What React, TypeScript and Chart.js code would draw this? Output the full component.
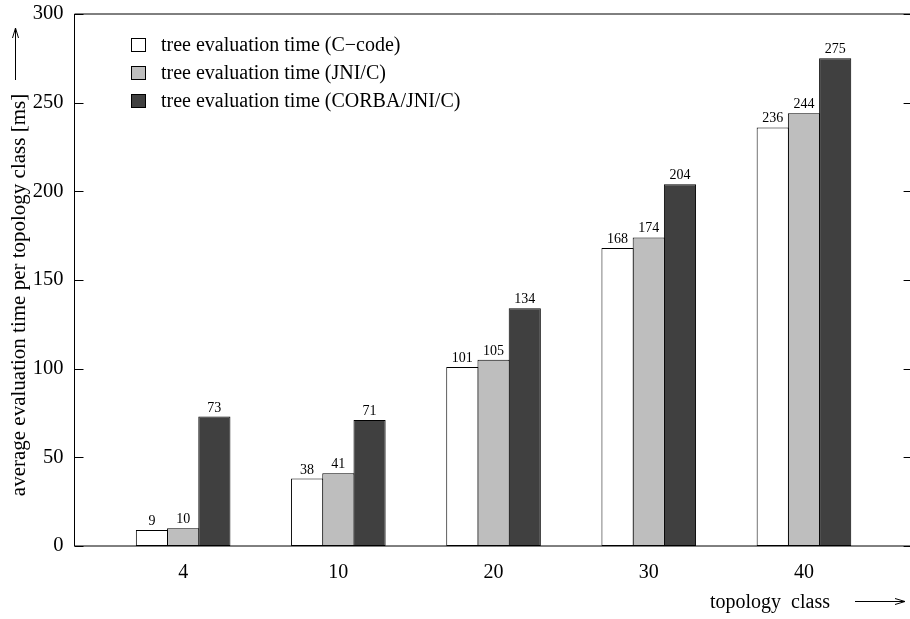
import { useEffect, useRef } from 'react';
import { Chart, registerables } from 'chart.js';

Chart.register(...registerables);

const FONT = "'Liberation Serif', 'Times New Roman', 'DejaVu Serif', serif";

// ---- data ----
const categories = ['4', '10', '20', '30', '40'];
const seriesLabels = [
  'tree evaluation time (C\u2212code)',
  'tree evaluation time (JNI/C)',
  'tree evaluation time (CORBA/JNI/C)',
];
const cCodeTimes = [9, 38, 101, 168, 236];
const jniTimes = [10, 41, 105, 174, 244];
const corbaTimes = [73, 71, 134, 204, 275];
const seriesColors = ['#ffffff', '#bebebe', '#404040'];
const yAxisTitle = 'average evaluation time per topology class [ms]';
const xAxisTitle = 'topology  class';

const seriesValues = [cCodeTimes, jniTimes, corbaTimes];

const decorPlugin = {
  id: 'decor',
  afterDatasetsDraw(chart: any) {
    const ctx = chart.ctx as CanvasRenderingContext2D;
    ctx.save();
    // value labels
    ctx.font = `14px ${FONT}`;
    ctx.fillStyle = '#000';
    ctx.textAlign = 'center';
    ctx.textBaseline = 'alphabetic';
    chart.data.datasets.forEach((ds: any, di: number) => {
      const meta = chart.getDatasetMeta(di);
      meta.data.forEach((el: any, i: number) => {
        const v = ds.data[i].y;
        ctx.fillText(String(v), el.x, el.y - 5);
      });
    });
    ctx.restore();
  },
  afterDraw(chart: any) {
    const ctx = chart.ctx as CanvasRenderingContext2D;
    const { left, right, top, bottom } = chart.chartArea;
    const ys = chart.scales.y;
    ctx.save();
    // frame
    ctx.strokeStyle = '#000';
    ctx.lineWidth = 1;
    ctx.beginPath();
    ctx.moveTo(left, bottom);
    ctx.lineTo(right + 5, bottom);
    ctx.moveTo(left, top);
    ctx.lineTo(right + 5, top);
    ctx.moveTo(left, top);
    ctx.lineTo(left, bottom);
    ctx.moveTo(right, top);
    ctx.lineTo(right, bottom);
    // inward y ticks
    ys.ticks.forEach((t: any) => {
      const py = Math.round(ys.getPixelForValue(t.value)) + 0.5;
      ctx.moveTo(left, py);
      ctx.lineTo(left + 9, py);
      ctx.moveTo(right - 9, py);
      ctx.lineTo(right, py);
    });
    ctx.stroke();

    // legend
    ctx.font = `20px ${FONT}`;
    ctx.textAlign = 'left';
    ctx.textBaseline = 'middle';
    chart.data.datasets.forEach((ds: any, i: number) => {
      const cy = 45 + i * 28;
      ctx.fillStyle = ds.backgroundColor;
      ctx.fillRect(131.5, cy - 6.5, 14, 13);
      ctx.strokeStyle = '#000';
      ctx.strokeRect(131.5, cy - 6.5, 14, 13);
      ctx.fillStyle = '#000';
      ctx.fillText(ds.label, 161, cy + 1);
    });

    // y-axis title
    ctx.save();
    ctx.font = `21px ${FONT}`;
    ctx.translate(19, 295);
    ctx.rotate(-Math.PI / 2);
    ctx.textAlign = 'center';
    ctx.textBaseline = 'middle';
    ctx.fillText(yAxisTitle, 0, 0);
    ctx.restore();

    // x-axis title
    ctx.font = `20px ${FONT}`;
    ctx.textAlign = 'left';
    ctx.textBaseline = 'middle';
    ctx.fillText(xAxisTitle, 710, 603);

    // arrows
    ctx.strokeStyle = '#000';
    ctx.lineWidth = 1;
    ctx.beginPath();
    ctx.moveTo(15.5, 80);
    ctx.lineTo(15.5, 28);
    ctx.moveTo(12.5, 38);
    ctx.lineTo(15.5, 28);
    ctx.lineTo(18.5, 38);
    ctx.moveTo(855, 601.5);
    ctx.lineTo(905, 601.5);
    ctx.moveTo(895, 598.5);
    ctx.lineTo(905, 601.5);
    ctx.lineTo(895, 604.5);
    ctx.stroke();
    ctx.restore();
  },
};

export default function App() {
  const ref = useRef<HTMLCanvasElement>(null);

  useEffect(() => {
    const canvas = ref.current!;
    const chart = new Chart(canvas, {
      type: 'bar',
      data: {
        datasets: seriesValues.map((vals, si) => ({
          label: seriesLabels[si],
          data: vals.map((v, i) => ({ x: i, y: v })),
          backgroundColor: seriesColors[si],
          borderColor: '#000',
          borderWidth: 1,
          borderSkipped: false,
          categoryPercentage: 0.6035,
          barPercentage: 1.03,
        })),
      },
      options: {
        responsive: false,
        animation: false,
        devicePixelRatio: 1,
        layout: { padding: { top: 14, right: 7.4, left: 0, bottom: 0 } },
        plugins: {
          legend: { display: false },
          tooltip: { enabled: false },
        },
        scales: {
          x: {
            type: 'linear',
            min: -0.7,
            max: 4.7,
            offset: false,
            grid: { display: false, drawTicks: false },
            border: { display: false },
            afterBuildTicks: (s: any) => {
              s.ticks = categories.map((_, i) => ({ value: i }));
            },
            afterFit: (s: any) => {
              s.height = 73;
              s.paddingLeft = 0;
              s.paddingRight = 0;
            },
            ticks: {
              autoSkip: false,
              maxRotation: 0,
              padding: 15,
              color: '#000',
              font: { family: FONT, size: 20 },
              callback: (v: any) => categories[v as number] ?? '',
            },
          },
          y: {
            min: 0,
            max: 300,
            grid: { display: false, drawTicks: false },
            border: { display: false },
            afterFit: (s: any) => {
              s.width = 74.5;
              s.paddingTop = 0;
              s.paddingBottom = 0;
            },
            ticks: {
              stepSize: 50,
              padding: 11,
              color: '#000',
              font: { family: FONT, size: 20.5 },
            },
          },
        },
      },
      plugins: [decorPlugin],
    } as any);
    return () => chart.destroy();
  }, []);

  return (
    <div
      style={{
        position: 'absolute',
        left: 0,
        top: 0,
        width: 910,
        height: 619,
        overflow: 'hidden',
        background: '#fff',
      }}
    >
      <canvas ref={ref} width={920} height={619} style={{ display: 'block' }} />
    </div>
  );
}
